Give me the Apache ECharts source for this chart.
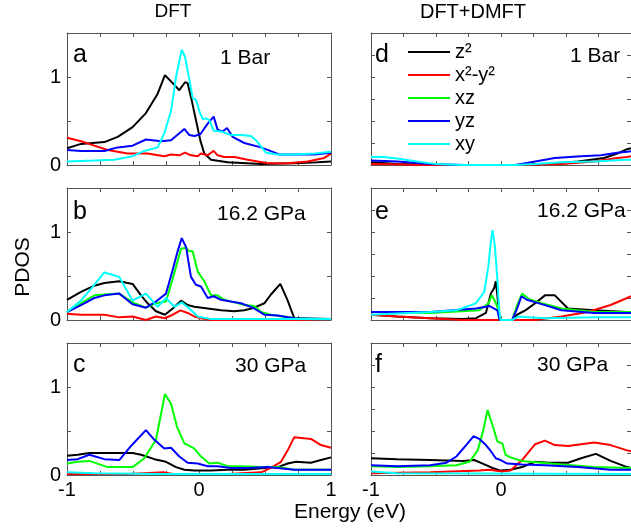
<!DOCTYPE html>
<html><head><meta charset="utf-8">
<script src="https://cdn.jsdelivr.net/npm/echarts@6/dist/echarts.min.js"></script>
<style>html,body{margin:0;padding:0;background:#fff}#c{width:631px;height:529px}</style>
</head><body><div id="c"></div>
<script>
// ---- labels ----
const orbitals = ['z²', 'x²-y²', 'xz', 'yz', 'xy'];
const orbitalColors = ['#000000', '#ff0000', '#00ff00', '#0000ff', '#00ffff'];
const columnTitles = ['DFT', 'DFT+DMFT'];
const panelLetters = ['a', 'b', 'c', 'd', 'e', 'f'];
const pressures = ['1 Bar', '16.2 GPa', '30 GPa', '1 Bar', '16.2 GPa', '30 GPa'];
const xTickValues = [-1, 0, 1];
const yTickValues = [0, 1];
const xTitle = 'Energy (eV)';
const yTitle = 'PDOS';

// ---- data: [energy (eV), PDOS] ----
// a: DFT, 1 Bar
const a_z2 = [[-1,0.19],[-0.894,0.24],[-0.717,0.26],[-0.616,0.32],[-0.503,0.43],[-0.402,0.59],[-0.313,0.81],[-0.258,1.02],[-0.212,0.95],[-0.149,0.85],[-0.106,0.94],[-0.086,0.93],[-0.056,0.74],[-0.023,0.51],[0.010,0.28],[0.040,0.13],[0.091,0.06],[0.217,0.03],[0.470,0.01],[0.722,0.02],[0.899,0.03],[1,0.04]];
const a_x2y2 = [[-1,0.31],[-0.894,0.27],[-0.793,0.22],[-0.692,0.17],[-0.540,0.13],[-0.389,0.13],[-0.263,0.10],[-0.212,0.12],[-0.149,0.11],[-0.106,0.14],[-0.061,0.11],[-0.010,0.10],[0.015,0.13],[0.066,0.11],[0.111,0.16],[0.141,0.11],[0.192,0.09],[0.268,0.09],[0.369,0.06],[0.520,0.02],[0.672,0.02],[0.823,0.04],[0.949,0.08],[1,0.13]];
const a_yz = [[-1,0.17],[-0.894,0.16],[-0.717,0.16],[-0.616,0.20],[-0.503,0.22],[-0.402,0.29],[-0.288,0.27],[-0.212,0.28],[-0.149,0.36],[-0.111,0.41],[-0.073,0.34],[-0.035,0.33],[0.010,0.35],[0.066,0.47],[0.111,0.55],[0.141,0.40],[0.179,0.38],[0.212,0.42],[0.255,0.32],[0.343,0.25],[0.470,0.20],[0.609,0.12],[0.722,0.12],[0.874,0.12],[1,0.14]];
const a_xy = [[-1,0.04],[-0.793,0.05],[-0.641,0.06],[-0.503,0.10],[-0.414,0.16],[-0.313,0.20],[-0.263,0.36],[-0.212,0.61],[-0.174,1.00],[-0.131,1.31],[-0.106,1.23],[-0.073,0.97],[-0.048,0.76],[-0.023,0.74],[0.003,0.61],[0.028,0.52],[0.053,0.53],[0.078,0.51],[0.111,0.39],[0.167,0.38],[0.242,0.34],[0.318,0.34],[0.394,0.33],[0.432,0.28],[0.508,0.14],[0.596,0.12],[0.722,0.12],[0.874,0.13],[1,0.15]];
// b: DFT, 16.2 GPa
const b_z2 = [[-1,0.23],[-0.894,0.32],[-0.793,0.39],[-0.717,0.42],[-0.604,0.44],[-0.503,0.41],[-0.439,0.28],[-0.389,0.19],[-0.326,0.10],[-0.258,0.06],[-0.199,0.13],[-0.136,0.22],[-0.086,0.17],[-0.035,0.15],[0.066,0.13],[0.167,0.11],[0.268,0.10],[0.343,0.11],[0.419,0.14],[0.495,0.19],[0.545,0.29],[0.616,0.41],[0.672,0.22],[0.722,0.02],[0.848,0.01],[1,0.01]];
const b_x2y2 = [[-1,0.07],[-0.894,0.06],[-0.717,0.06],[-0.604,0.03],[-0.503,0.04],[-0.402,0.00],[-0.326,0.04],[-0.258,0.02],[-0.199,0.06],[-0.141,0.11],[-0.086,0.08],[-0.035,0.04],[0.015,0.02],[0.091,0.00],[0.470,0.00],[0.722,0.00],[1,0.01]];
const b_xz = [[-1,0.09],[-0.894,0.19],[-0.793,0.28],[-0.717,0.29],[-0.604,0.30],[-0.503,0.20],[-0.402,0.14],[-0.326,0.19],[-0.250,0.21],[-0.199,0.47],[-0.136,0.81],[-0.098,0.82],[-0.073,0.78],[-0.048,0.78],[-0.010,0.55],[0.040,0.44],[0.091,0.28],[0.141,0.28],[0.192,0.23],[0.268,0.20],[0.343,0.17],[0.419,0.16],[0.470,0.09],[0.545,0.06],[0.722,0.02],[1,0.01]];
const b_yz = [[-1,0.09],[-0.894,0.17],[-0.793,0.25],[-0.717,0.28],[-0.604,0.30],[-0.503,0.18],[-0.402,0.14],[-0.326,0.21],[-0.250,0.30],[-0.199,0.57],[-0.162,0.78],[-0.131,0.93],[-0.098,0.83],[-0.061,0.49],[-0.023,0.40],[0.015,0.38],[0.066,0.25],[0.111,0.27],[0.167,0.23],[0.242,0.21],[0.318,0.19],[0.407,0.14],[0.495,0.06],[0.596,0.05],[0.722,0.02],[1,0.01]];
const b_xy = [[-1,0.09],[-0.894,0.22],[-0.793,0.40],[-0.717,0.54],[-0.604,0.49],[-0.503,0.22],[-0.402,0.30],[-0.313,0.15],[-0.250,0.25],[-0.187,0.15],[-0.131,0.20],[-0.073,0.13],[-0.010,0.04],[0.091,0.01],[1,0.01]];
// c: DFT, 30 GPa
const c_z2 = [[-1,0.22],[-0.919,0.23],[-0.831,0.25],[-0.717,0.25],[-0.604,0.25],[-0.503,0.25],[-0.439,0.23],[-0.338,0.18],[-0.250,0.15],[-0.174,0.09],[-0.111,0.06],[-0.035,0.05],[0.091,0.05],[0.217,0.06],[0.343,0.06],[0.495,0.08],[0.596,0.09],[0.672,0.13],[0.735,0.15],[0.848,0.14],[0.924,0.17],[1,0.20]];
const c_x2y2 = [[-1,0.01],[-0.540,0.01],[-0.263,0.03],[-0.187,0.01],[0.217,0.01],[0.470,0.03],[0.545,0.08],[0.621,0.15],[0.672,0.28],[0.722,0.43],[0.848,0.41],[0.924,0.34],[1,0.31]];
const c_xz = [[-1,0.13],[-0.919,0.15],[-0.831,0.16],[-0.692,0.09],[-0.604,0.09],[-0.503,0.09],[-0.414,0.19],[-0.326,0.40],[-0.258,0.92],[-0.212,0.81],[-0.167,0.55],[-0.111,0.36],[-0.073,0.33],[-0.035,0.30],[0.015,0.21],[0.078,0.13],[0.141,0.14],[0.217,0.10],[0.318,0.10],[0.470,0.09],[0.596,0.09],[0.722,0.06],[1,0.06]];
const c_yz = [[-1,0.17],[-0.919,0.18],[-0.831,0.23],[-0.717,0.18],[-0.604,0.17],[-0.515,0.33],[-0.402,0.51],[-0.338,0.40],[-0.263,0.30],[-0.212,0.31],[-0.149,0.21],[-0.086,0.14],[-0.010,0.13],[0.066,0.10],[0.141,0.10],[0.242,0.08],[0.369,0.08],[0.520,0.09],[0.722,0.06],[0.874,0.06],[1,0.06]];
const c_xy = [[-1,0.03],[-0.793,0.02],[-0.288,0.01],[1,0.01]];
// d: DFT+DMFT, 1 Bar
const d_z2 = [[-1,0.03],[-0.798,0.01],[-0.419,0],[0.111,0],[0.338,0.01],[0.591,0.04],[0.793,0.08],[0.894,0.13],[0.970,0.18],[1,0.19]];
const d_x2y2 = [[-1,0.01],[-0.545,0],[0.111,0],[0.465,0.01],[0.717,0.04],[0.894,0.08],[0.970,0.09],[1,0.10]];
const d_yz = [[-1,0.05],[-0.798,0.04],[-0.545,0.01],[-0.293,0],[0.111,0],[0.263,0.04],[0.414,0.08],[0.616,0.10],[0.768,0.11],[0.894,0.14],[0.970,0.15],[1,0.155]];
const d_xy = [[-1,0.09],[-0.924,0.095],[-0.798,0.075],[-0.646,0.04],[-0.495,0.01],[-0.293,0],[0.111,0],[0.263,0.01],[0.465,0.03],[0.717,0.04],[0.970,0.06],[1,0.06]];
// e: DFT+DMFT, 16.2 GPa
const e_z2 = [[-1,0.06],[-0.798,0.04],[-0.545,0.02],[-0.293,0.01],[-0.192,0.02],[-0.116,0.08],[-0.078,0.30],[-0.053,0.36],[-0.040,0.44],[-0.028,0.28],[-0.010,0],[0.086,0],[0.124,0.06],[0.187,0.11],[0.263,0.19],[0.338,0.28],[0.414,0.28],[0.515,0.13],[0.717,0.11],[0.970,0.09],[1,0.09]];
const e_x2y2 = [[-1,0.06],[-0.798,0.04],[-0.545,0.02],[-0.293,0],[0.263,0],[0.465,0.04],[0.667,0.09],[0.843,0.17],[0.970,0.25],[1,0.27]];
const e_xz = [[-1,0.09],[-0.545,0.08],[-0.167,0.11],[-0.096,0.19],[-0.071,0.28],[-0.048,0.22],[-0.028,0.15],[-0.010,0],[0.086,0],[0.124,0.17],[0.162,0.30],[0.212,0.24],[0.313,0.19],[0.465,0.13],[0.717,0.09],[1,0.09]];
const e_yz = [[-1,0.09],[-0.545,0.09],[-0.192,0.13],[-0.116,0.15],[-0.091,0.16],[-0.066,0.14],[-0.053,0.16],[-0.028,0.11],[-0.010,0],[0.086,0],[0.124,0.13],[0.157,0.27],[0.199,0.23],[0.313,0.18],[0.465,0.11],[0.717,0.08],[1,0.08]];
const e_xy = [[-1,0.06],[-0.798,0.075],[-0.545,0.09],[-0.343,0.11],[-0.192,0.19],[-0.129,0.32],[-0.096,0.62],[-0.078,0.89],[-0.066,1.02],[-0.048,0.85],[-0.028,0.47],[-0.015,0.13],[-0.003,0],[0.086,0],[0.136,0.04],[0.212,0.03],[0.338,0.02],[0.717,0.03],[1,0.03]];
// f: DFT+DMFT, 30 GPa
const f_z2 = [[-1,0.19],[-0.798,0.18],[-0.545,0.17],[-0.293,0.16],[-0.205,0.17],[-0.141,0.13],[-0.066,0.08],[-0.003,0.05],[0.073,0.06],[0.162,0.09],[0.263,0.15],[0.364,0.14],[0.515,0.14],[0.616,0.19],[0.730,0.24],[0.843,0.16],[0.970,0.09],[1,0.08]];
const f_x2y2 = [[-1,0.02],[-0.545,0.03],[-0.167,0.05],[-0.091,0.06],[0.010,0.04],[0.073,0.05],[0.162,0.17],[0.263,0.35],[0.338,0.39],[0.414,0.34],[0.515,0.33],[0.717,0.37],[0.843,0.34],[0.970,0.28],[1,0.27]];
const f_xz = [[-1,0.10],[-0.798,0.09],[-0.545,0.10],[-0.343,0.11],[-0.242,0.15],[-0.179,0.28],[-0.136,0.51],[-0.104,0.74],[-0.066,0.57],[-0.028,0.38],[0.010,0.36],[0.035,0.23],[0.073,0.20],[0.162,0.16],[0.465,0.12],[0.717,0.09],[1,0.08]];
const f_yz = [[-1,0.11],[-0.798,0.10],[-0.545,0.11],[-0.419,0.14],[-0.343,0.21],[-0.268,0.34],[-0.212,0.44],[-0.167,0.41],[-0.116,0.34],[-0.078,0.27],[-0.040,0.19],[-0.003,0.17],[0.048,0.13],[0.162,0.12],[0.338,0.11],[0.591,0.09],[0.843,0.06],[1,0.06]];
const f_xy = [[-1,0.04],[-0.798,0.02],[1,0.01]];

// curves per panel, in orbital order (null = not drawn)
const panelCurves = [
  [a_z2, a_x2y2, null, a_yz, a_xy],
  [b_z2, b_x2y2, b_xz, b_yz, b_xy],
  [c_z2, c_x2y2, c_xz, c_yz, c_xy],
  [d_z2, d_x2y2, null, d_yz, d_xy],
  [e_z2, e_x2y2, e_xz, e_yz, e_xy],
  [f_z2, f_x2y2, f_xz, f_yz, f_xy]
];

// ---- layout ----
const FONT = 'Liberation Sans, Arial, sans-serif';
const frameColor = '#555';
const colLeft = [67, 371];
const rowTop = [33, 188, 343];
const PW = 264, PH = 132;
const isInt = v => Math.abs(v - Math.round(v)) < 1e-9;

const grid = [], xAxis = [], yAxis = [], series = [], graphic = [];
for (let i = 0; i < 6; i++) {
  const col = i < 3 ? 0 : 1, row = i % 3;
  grid.push({left: colLeft[col], top: rowTop[row], width: PW, height: PH, containLabel: false});
  const lineCfg = {show: true, onZero: false, lineStyle: {color: frameColor, width: 1}};
  const tickCfg = {show: true, inside: true, length: 4, lineStyle: {color: frameColor, width: 1}};
  xAxis.push({
    type: 'value', gridIndex: i, min: -1, max: 1, interval: 0.25, position: 'bottom',
    axisLine: lineCfg, axisTick: tickCfg, splitLine: {show: false},
    axisLabel: {
      show: row === 2, margin: 5, fontSize: 20, color: '#000', fontFamily: FONT,
      showMinLabel: true, showMaxLabel: col === 0,
      formatter: v => (isInt(v) && xTickValues.includes(Math.round(v)) && !(col === 1 && Math.round(v) === 1)) ? String(Math.round(v)) : ''
    }
  });
  xAxis.push({
    type: 'value', gridIndex: i, min: -1, max: 1, interval: 0.25, position: 'top',
    axisLine: lineCfg, axisTick: tickCfg, splitLine: {show: false}, axisLabel: {show: false}
  });
  const yInt = col === 0 ? 0.5 : 0.25;
  yAxis.push({
    type: 'value', gridIndex: i, min: 0, max: 1.5, interval: yInt, position: 'left',
    axisLine: lineCfg, axisTick: tickCfg, splitLine: {show: false},
    axisLabel: {
      show: col === 0, margin: 6, fontSize: 20, color: '#000', fontFamily: FONT,
      formatter: v => (isInt(v) && yTickValues.includes(Math.round(v))) ? String(Math.round(v)) : ''
    }
  });
  yAxis.push({
    type: 'value', gridIndex: i, min: 0, max: 1.5, interval: yInt, position: 'right',
    axisLine: lineCfg, axisTick: tickCfg, splitLine: {show: false}, axisLabel: {show: false}
  });
  panelCurves[i].forEach((data, k) => {
    if (!data) return;
    series.push({
      type: 'line', name: orbitals[k], xAxisIndex: 2 * i, yAxisIndex: 2 * i,
      data: data, showSymbol: false, symbol: 'none', silent: true, clip: true,
      lineStyle: {color: orbitalColors[k], width: 2},
      itemStyle: {color: orbitalColors[k]}, z: 2 + k
    });
  });
}

// panel letters and pressure labels
const letterX = [73, 375];
const letterY = [55, 212, 365];
const pressX = [[221, 218, 236], [571, 538, 538]];
const pressY = [[58.5, 214.5, 366.5], [56, 211.5, 365]];
for (let i = 0; i < 6; i++) {
  const col = i < 3 ? 0 : 1, row = i % 3;
  graphic.push({type: 'text', x: letterX[col], y: letterY[row], z: 100,
    style: {text: panelLetters[i], fontSize: 25, fontFamily: FONT, fill: '#000', align: 'left', verticalAlign: 'middle'}});
  graphic.push({type: 'text', x: pressX[col][row] - 1, y: pressY[col][row], z: 100,
    style: {text: pressures[i], fontSize: 21, fontFamily: FONT, fill: '#000', align: 'left', verticalAlign: 'middle'}});
}
graphic.push({type: 'text', x: 173, y: 12, style: {text: columnTitles[0], fontSize: 19, fontFamily: FONT, fill: '#000', align: 'center', verticalAlign: 'middle'}});
graphic.push({type: 'text', x: 473, y: 12, style: {text: columnTitles[1], fontSize: 20, fontFamily: FONT, fill: '#000', align: 'center', verticalAlign: 'middle'}});
graphic.push({type: 'text', x: 350, y: 512, style: {text: xTitle, fontSize: 21, fontFamily: FONT, fill: '#000', align: 'center', verticalAlign: 'middle'}});
graphic.push({type: 'text', x: 23, y: 267, rotation: Math.PI / 2, style: {text: yTitle, fontSize: 21, fontFamily: FONT, fill: '#000', align: 'center', verticalAlign: 'middle'}});

const chart = echarts.init(document.getElementById('c'), null, {renderer: 'canvas'});
chart.setOption({
  animation: false,
  backgroundColor: '#fff',
  color: orbitalColors,
  grid, xAxis, yAxis, series, graphic,
  legend: {
    data: orbitals, orient: 'vertical', left: 408, top: 42, padding: 0,
    itemWidth: 42, itemHeight: 2, itemGap: 3, icon: 'rect', selectedMode: false,
    textStyle: {fontSize: 20, lineHeight: 20, color: '#000', fontFamily: FONT}
  }
});
</script>
</body></html>
